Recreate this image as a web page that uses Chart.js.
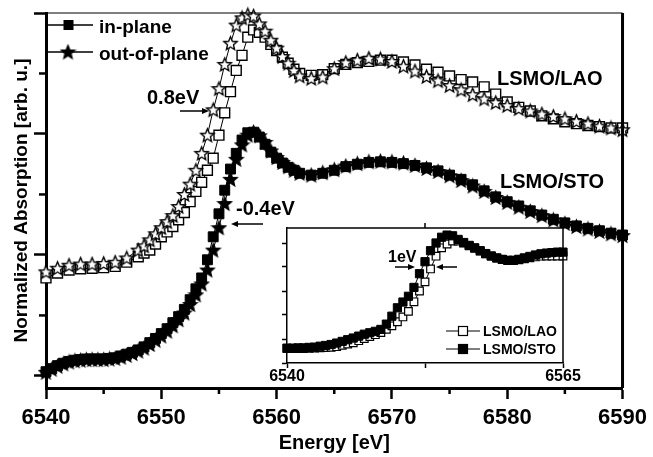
<!DOCTYPE html>
<html>
<head>
<meta charset="utf-8">
<script src="https://cdn.jsdelivr.net/npm/chart.js@4.4.1/dist/chart.umd.min.js"></script>
<style>
  body { margin: 0; background: #fff; }
  #wrap { position: relative; width: 653px; height: 457px; }
  #main { position: absolute; left: 0; top: 0; }
  #inset { position: absolute; left: 260px; top: 215px; }
</style>
</head>
<body>
<div id="wrap">
  <canvas id="main" width="653" height="457"></canvas>
  <canvas id="inset" width="340" height="170"></canvas>
</div>
<script>
// main panel: photon energy (eV) and normalized absorption (arb. u.)
const energyLao = [6540, 6541, 6542, 6543, 6544, 6545, 6546, 6547, 6548,
  6548.5, 6549, 6549.5, 6550, 6550.5, 6551, 6551.5, 6552, 6552.5, 6553, 6553.5, 6554, 6554.5,
  6555, 6555.5, 6556, 6556.5, 6557, 6557.5, 6558, 6558.5, 6559, 6559.5, 6560, 6560.5, 6561, 6561.5, 6562,
  6563, 6564, 6565, 6566, 6567, 6568, 6569, 6570, 6571, 6572, 6573, 6574, 6575, 6576,
  6577, 6578, 6579, 6580, 6581, 6582, 6583, 6584, 6585, 6586, 6587, 6588, 6589, 6590];

const laoInPlane = [1.62, 1.70, 1.75, 1.77, 1.78, 1.79, 1.81, 1.88, 1.97,
  2.03, 2.08, 2.18, 2.30, 2.38, 2.47, 2.58, 2.70, 2.88, 3.05, 3.20, 3.40, 3.60,
  3.98, 4.35, 4.70, 5.05, 5.30, 5.60, 5.72, 5.68, 5.60, 5.48, 5.38, 5.27, 5.17, 5.07, 5.00,
  4.97, 4.98, 5.08, 5.15, 5.18, 5.20, 5.22, 5.22, 5.19, 5.14, 5.07, 5.02, 4.96, 4.90,
  4.86, 4.78, 4.66, 4.53, 4.44, 4.38, 4.30, 4.25, 4.20, 4.17, 4.14, 4.12, 4.10, 4.10];

const laoOutOfPlane = [1.72, 1.78, 1.83, 1.85, 1.85, 1.86, 1.88, 1.95, 2.08,
  2.15, 2.25, 2.35, 2.45, 2.55, 2.65, 2.80, 3.00, 3.17, 3.40, 3.68, 3.98, 4.40,
  4.75, 5.15, 5.50, 5.80, 5.92, 5.97, 5.95, 5.82, 5.70, 5.55, 5.42, 5.28, 5.17, 5.05, 4.96,
  4.92, 4.94, 5.08, 5.18, 5.22, 5.25, 5.24, 5.20, 5.12, 5.04, 4.95, 4.88, 4.80, 4.73,
  4.65, 4.58, 4.52, 4.47, 4.42, 4.38, 4.33, 4.29, 4.25, 4.21, 4.17, 4.13, 4.10, 4.07];

const energySto = [6540, 6540.5, 6541, 6541.5, 6542, 6542.5, 6543, 6543.5, 6544, 6544.5,
  6545, 6545.5, 6546, 6546.5, 6547, 6547.5, 6548,
  6548.5, 6549, 6549.5, 6550, 6550.5, 6551, 6551.5, 6552, 6552.5, 6553, 6553.5, 6554, 6554.5,
  6555, 6555.5, 6556, 6556.5, 6557, 6557.5, 6558, 6558.5, 6559, 6559.5, 6560, 6560.5, 6561, 6561.5, 6562,
  6563, 6564, 6565, 6566, 6567, 6568, 6569, 6570, 6571, 6572, 6573, 6574, 6575, 6576,
  6577, 6578, 6579, 6580, 6581, 6582, 6583, 6584, 6585, 6586, 6587, 6588, 6589, 6590];

const stoInPlane = [0.07, 0.12, 0.17, 0.21, 0.24, 0.26, 0.27, 0.28, 0.28, 0.28,
  0.28, 0.29, 0.30, 0.33, 0.36, 0.39, 0.43,
  0.48, 0.55, 0.62, 0.70, 0.78, 0.88, 0.98, 1.10, 1.26, 1.44, 1.62, 1.92, 2.30,
  2.68, 3.07, 3.42, 3.68, 3.90, 4.02, 4.03, 3.95, 3.83, 3.70, 3.60, 3.52, 3.45, 3.40, 3.35,
  3.32, 3.35, 3.40, 3.46, 3.50, 3.53, 3.54, 3.53, 3.51, 3.48, 3.44, 3.39, 3.32, 3.25,
  3.16, 3.06, 2.96, 2.88, 2.81, 2.73, 2.66, 2.59, 2.53, 2.48, 2.44, 2.40, 2.36, 2.33];

const stoOutOfPlane = [0.06, 0.11, 0.16, 0.20, 0.23, 0.25, 0.26, 0.27, 0.27, 0.27,
  0.27, 0.28, 0.29, 0.31, 0.34, 0.37, 0.41,
  0.46, 0.52, 0.59, 0.66, 0.74, 0.83, 0.93, 1.04, 1.18, 1.34, 1.52, 1.75, 2.08,
  2.45, 2.85, 3.25, 3.58, 3.82, 3.98, 4.03, 3.97, 3.86, 3.72, 3.61, 3.53, 3.46, 3.40, 3.35,
  3.32, 3.36, 3.41, 3.47, 3.51, 3.54, 3.55, 3.54, 3.52, 3.48, 3.43, 3.38, 3.31, 3.23,
  3.14, 3.05, 2.95, 2.87, 2.79, 2.72, 2.65, 2.58, 2.52, 2.47, 2.43, 2.39, 2.35, 2.32];

const xTicks = [6540, 6550, 6560, 6570, 6580, 6590];
const xMinorTicks = [6545, 6555, 6565, 6575, 6585];
const yTicks = [0, 2, 4, 6];
const yMinorTicks = [1, 3, 5];

// inset panel
const insetEnergy = [6540, 6540.5, 6541, 6541.5, 6542, 6542.5, 6543, 6543.5, 6544, 6544.5,
  6545, 6545.5, 6546, 6546.5, 6547, 6547.5, 6548, 6548.5, 6549, 6549.5,
  6550, 6550.5, 6551, 6551.5, 6552, 6552.5, 6553, 6553.5, 6554, 6554.5,
  6555, 6555.5, 6556, 6556.5, 6557, 6557.5, 6558, 6558.5, 6559, 6559.5,
  6560, 6560.5, 6561, 6561.5, 6562, 6562.5, 6563, 6563.5, 6564, 6564.5, 6565];

const insetLao = [0.60, 0.60, 0.60, 0.60, 0.61, 0.62, 0.63, 0.64, 0.65, 0.68,
  0.74, 0.79, 0.84, 0.93, 1.02, 1.10, 1.18, 1.27, 1.40, 1.55,
  1.72, 1.92, 2.15, 2.55, 3.00, 3.38, 3.92, 4.45, 4.80, 4.96,
  5.08, 5.08, 5.00, 4.88, 4.78, 4.66, 4.55, 4.45, 4.37, 4.31,
  4.27, 4.27, 4.30, 4.34, 4.38, 4.42, 4.45, 4.46, 4.46, 4.46, 4.46];

const insetSto = [0.62, 0.62, 0.63, 0.63, 0.65, 0.66, 0.70, 0.73, 0.77, 0.83,
  0.90, 0.97, 1.04, 1.12, 1.20, 1.26, 1.32, 1.40, 1.62, 1.95,
  2.30, 2.54, 2.78, 3.15, 3.72, 4.22, 4.68, 5.00, 5.24, 5.33,
  5.30, 5.15, 5.02, 4.90, 4.80, 4.68, 4.56, 4.46, 4.38, 4.32,
  4.28, 4.28, 4.32, 4.38, 4.44, 4.50, 4.55, 4.58, 4.60, 4.62, 4.62];

const insetXTicks = [6540, 6552.5, 6565];
const insetXLabels = ['6540', '', '6565'];
const insetYTicks = [0, 1, 2, 3, 4, 5];

const FONT = "'Liberation Sans', Arial, Helvetica, sans-serif";

function pts(xs, ys) {
  return xs.map((x, i) => ({ x: x, y: ys[i] }));
}

function makeStar(filled, outer) {
  const s = Math.ceil(outer * 2 + 3);
  const c = document.createElement('canvas');
  c.width = s; c.height = s;
  const g = c.getContext('2d');
  g.beginPath();
  for (let k = 0; k < 10; k++) {
    const r = k % 2 ? outer * 0.45 : outer;
    const a = -Math.PI / 2 + k * Math.PI / 5;
    g.lineTo(s / 2 + r * Math.cos(a), s / 2 + 0.6 + r * Math.sin(a));
  }
  g.closePath();
  g.fillStyle = filled ? '#000' : '#fff';
  g.fill();
  g.lineWidth = 1.4;
  g.strokeStyle = '#000';
  g.stroke();
  return c;
}

const starOpen = makeStar(false, 7);
const starFilled = makeStar(true, 7);

function arrow(ctx, x1, y, x2) {
  const dir = x2 > x1 ? 1 : -1;
  ctx.beginPath();
  ctx.moveTo(x1, y);
  ctx.lineTo(x2 - dir * 5, y);
  ctx.lineWidth = 1.5;
  ctx.stroke();
  ctx.beginPath();
  ctx.moveTo(x2, y);
  ctx.lineTo(x2 - dir * 7, y - 3);
  ctx.lineTo(x2 - dir * 7, y + 3);
  ctx.closePath();
  ctx.fill();
}

const mainDecor = {
  id: 'mainDecor',
  afterDraw(chart) {
    const { ctx, chartArea: a, scales } = chart;
    ctx.save();
    ctx.strokeStyle = '#000';
    ctx.fillStyle = '#000';
    // frame: thin top, heavy right
    ctx.lineWidth = 1.2;
    ctx.beginPath(); ctx.moveTo(a.left, a.top); ctx.lineTo(a.right, a.top); ctx.stroke();
    ctx.lineWidth = 3;
    ctx.beginPath(); ctx.moveTo(a.right, a.top); ctx.lineTo(a.right, a.bottom); ctx.stroke();
    // minor ticks
    ctx.lineWidth = 2.5;
    xMinorTicks.forEach(v => {
      const px = scales.x.getPixelForValue(v);
      ctx.beginPath(); ctx.moveTo(px, a.bottom); ctx.lineTo(px, a.bottom + 6); ctx.stroke();
    });
    yMinorTicks.forEach(v => {
      const py = scales.y.getPixelForValue(v);
      ctx.beginPath(); ctx.moveTo(a.left, py); ctx.lineTo(a.left - 7, py); ctx.stroke();
    });
    // legend
    ctx.lineWidth = 1.5;
    [[25, 'in-plane'], [52, 'out-of-plane']].forEach(([y, txt], i) => {
      ctx.beginPath(); ctx.moveTo(a.left, y); ctx.lineTo(93, y); ctx.stroke();
      if (i === 0) ctx.fillRect(63.5, y - 5, 10, 10);
      else ctx.drawImage(starFilled, 68 - starFilled.width / 2, y - starFilled.height / 2);
      ctx.font = 'bold 19px ' + FONT;
      ctx.textBaseline = 'alphabetic';
      ctx.fillText(txt, 99, y + 8);
    });
    // annotations
    ctx.font = 'bold 20px ' + FONT;
    ctx.fillText('0.8eV', 147, 104);
    arrow(ctx, 180, 111, 209);
    ctx.fillText('-0.4eV', 236, 215);
    arrow(ctx, 263, 224, 231);
    ctx.font = 'bold 20px ' + FONT;
    ctx.fillText('LSMO/LAO', 497, 85);
    ctx.fillText('LSMO/STO', 500, 188);
    ctx.restore();
  }
};

new Chart(document.getElementById('main'), {
  type: 'scatter',
  data: {
    datasets: [
      { label: 'LSMO/LAO out-of-plane', data: pts(energyLao, laoOutOfPlane), order: 1,
        pointStyle: starOpen, showLine: true, borderColor: '#000', borderWidth: 1, clip: false },
      { label: 'LSMO/LAO in-plane', data: pts(energyLao, laoInPlane), order: 2,
        pointStyle: 'rect', pointRadius: 7, pointBackgroundColor: '#fff', pointBorderColor: '#000',
        pointBorderWidth: 1.4, showLine: true, borderColor: '#000', borderWidth: 1, clip: false },
      { label: 'LSMO/STO out-of-plane', data: pts(energySto, stoOutOfPlane), order: 3,
        pointStyle: starFilled, showLine: true, borderColor: '#000', borderWidth: 1, clip: false },
      { label: 'LSMO/STO in-plane', data: pts(energySto, stoInPlane), order: 4,
        pointStyle: 'rect', pointRadius: 7, pointBackgroundColor: '#000', pointBorderColor: '#000',
        pointBorderWidth: 1, showLine: true, borderColor: '#000', borderWidth: 1, clip: false }
    ]
  },
  options: {
    responsive: false,
    animation: false,
    events: [],
    layout: { padding: { top: 13, right: 25, left: 0, bottom: 0 } },
    plugins: { legend: { display: false }, tooltip: { enabled: false } },
    scales: {
      x: {
        type: 'linear', min: 6540, max: 6590,
        afterBuildTicks: s => { s.ticks = xTicks.map(v => ({ value: v })); },
        afterFit: s => { s.height = 69; },
        ticks: { font: { family: FONT, size: 22, weight: 'bold' }, color: '#000', padding: 6,
                 autoSkip: false, maxRotation: 0, callback: v => String(v) },
        grid: { drawOnChartArea: false, drawTicks: true, tickLength: 11, tickWidth: 2.5, tickColor: '#000' },
        border: { color: '#000', width: 3 },
        title: { display: true, text: 'Energy [eV]', color: '#000',
                 font: { family: FONT, size: 20, weight: 'bold' }, padding: { top: 0, bottom: 2 } }
      },
      y: {
        type: 'linear', min: -0.2, max: 6,
        afterBuildTicks: s => { s.ticks = yTicks.map(v => ({ value: v })); },
        afterFit: s => { s.width = 46; },
        ticks: { display: false },
        grid: { drawOnChartArea: false, drawTicks: true, tickLength: 12, tickWidth: 2.5, tickColor: '#000' },
        border: { color: '#000', width: 3 },
        title: { display: true, text: 'Normalized Absorption [arb. u.]', color: '#000',
                 font: { family: FONT, size: 19, weight: 'bold' }, padding: { top: 10, bottom: 0 } }
      }
    }
  },
  plugins: [mainDecor]
});

// inset: offset of its canvas on the page
const OX = 260, OY = 215;

const insetDecor = {
  id: 'insetDecor',
  beforeDraw(chart) {
    const { ctx, chartArea: a } = chart;
    ctx.save();
    ctx.fillStyle = '#fff';
    ctx.fillRect(a.left, a.top, a.right - a.left, a.bottom - a.top);
    ctx.restore();
  },
  afterDraw(chart) {
    const { ctx, chartArea: a, scales } = chart;
    ctx.save();
    ctx.strokeStyle = '#000';
    ctx.fillStyle = '#000';
    ctx.lineWidth = 1.5;
    ctx.beginPath();
    ctx.moveTo(a.left, a.top); ctx.lineTo(a.right, a.top); ctx.lineTo(a.right, a.bottom);
    ctx.stroke();
    const mid = scales.x.getPixelForValue(insetXTicks[1]);
    ctx.beginPath(); ctx.moveTo(mid, a.top); ctx.lineTo(mid, a.top - 5); ctx.stroke();
    // legend
    ctx.lineWidth = 1.2;
    [[331, false, 'LSMO/LAO'], [349, true, 'LSMO/STO']].forEach(([py, filled, txt]) => {
      const y = py - OY;
      ctx.beginPath(); ctx.moveTo(446 - OX, y); ctx.lineTo(480 - OX, y); ctx.stroke();
      ctx.fillStyle = filled ? '#000' : '#fff';
      ctx.fillRect(463 - OX - 4.5, y - 4.5, 9, 9);
      ctx.strokeRect(463 - OX - 4.5, y - 4.5, 9, 9);
      ctx.fillStyle = '#000';
      ctx.font = 'bold 14px ' + FONT;
      ctx.fillText(txt, 483 - OX, y + 5);
    });
    ctx.font = 'bold 16px ' + FONT;
    ctx.fillText('1eV', 388 - OX, 262 - OY);
    arrow(ctx, 395 - OX, 267 - OY, 415 - OX);
    arrow(ctx, 457 - OX, 267 - OY, 436 - OX);
    ctx.restore();
  }
};

new Chart(document.getElementById('inset'), {
  type: 'scatter',
  data: {
    datasets: [
      { label: 'LSMO/STO', data: pts(insetEnergy, insetSto), order: 1,
        pointStyle: 'rect', pointRadius: 5.8, pointBackgroundColor: '#000', pointBorderColor: '#000',
        pointBorderWidth: 1, showLine: true, borderColor: '#000', borderWidth: 1, clip: false },
      { label: 'LSMO/LAO', data: pts(insetEnergy, insetLao), order: 2,
        pointStyle: 'rect', pointRadius: 5.4, pointBackgroundColor: '#fff', pointBorderColor: '#000',
        pointBorderWidth: 1.2, showLine: true, borderColor: '#000', borderWidth: 1, clip: false }
    ]
  },
  options: {
    responsive: false,
    animation: false,
    events: [],
    layout: { padding: { top: 13, right: 37, left: 0, bottom: 0 } },
    plugins: { legend: { display: false }, tooltip: { enabled: false } },
    scales: {
      x: {
        type: 'linear', min: 6540, max: 6565,
        afterBuildTicks: s => { s.ticks = insetXTicks.map(v => ({ value: v })); },
        afterFit: s => { s.height = 22; },
        ticks: { font: { family: FONT, size: 16, weight: 'bold' }, color: '#000', padding: -1,
                 autoSkip: false, maxRotation: 0, callback: (v, i) => insetXLabels[i] },
        grid: { drawOnChartArea: false, drawTicks: true, tickLength: 5, tickWidth: 1.5, tickColor: '#000' },
        border: { color: '#000', width: 1.5 }
      },
      y: {
        type: 'linear', min: 0, max: 5.625,
        afterBuildTicks: s => { s.ticks = insetYTicks.map(v => ({ value: v })); },
        afterFit: s => { s.width = 27; },
        ticks: { display: false },
        grid: { drawOnChartArea: false, drawTicks: true, tickLength: 5, tickWidth: 1.5, tickColor: '#000' },
        border: { color: '#000', width: 1.5 }
      }
    }
  },
  plugins: [insetDecor]
});
</script>
</body>
</html>
